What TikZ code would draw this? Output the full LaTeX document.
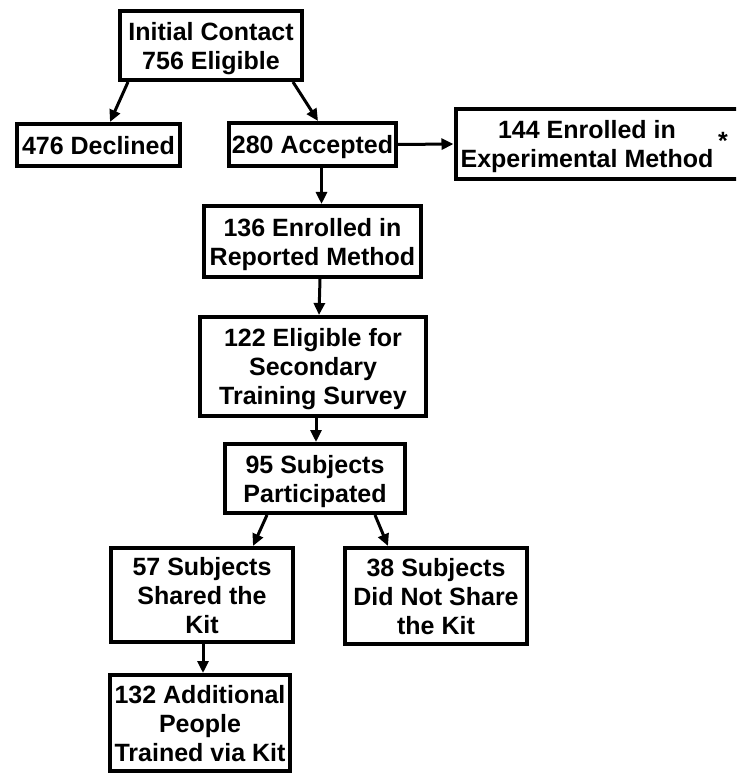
\documentclass[tikz,border=0pt]{standalone}
\usepackage{fontspec}
\setmainfont{Liberation Sans}
\usetikzlibrary{arrows.meta}
\begin{document}
\begin{tikzpicture}[x=1pt,y=-1pt,
  box/.style={draw=black,line width=4pt,rectangle,inner sep=0pt,align=center,text depth=0pt,
    font=\bfseries\fontsize{25}{29}\selectfont},
  txt/.style={inner sep=0pt,align=center,text depth=0pt,font=\bfseries\fontsize{25}{29}\selectfont},
  arr/.style={line width=3pt,-{Triangle[length=12pt,width=11pt]}}]
\useasboundingbox (0,0) rectangle (736,775);
\clip (0,0) rectangle (736,775);
\node[box,minimum width=182pt,minimum height=69pt] (init) at (211,45.5) {Initial Contact\\756 Eligible};
\node[box,minimum width=163pt,minimum height=42pt] (decl) at (98.5,145) {476 Declined};
\node[box,minimum width=167pt,minimum height=43pt] (acc) at (312.5,144.5) {280 Accepted};
\node[box,minimum width=291pt,minimum height=70pt] (exp) at (601,144) {};
\node[txt] (exptxt) at (587,144) {144 Enrolled in\\Experimental Method};
\node[txt] (ast) at (723,141) {*};
\node[box,minimum width=217pt,minimum height=71pt] (rep) at (312.5,241.5) {136 Enrolled in\\Reported Method};
\node[box,minimum width=226pt,minimum height=99pt] (elig) at (313,366.5) {122 Eligible for\\Secondary\\Training Survey};
\node[box,minimum width=180pt,minimum height=69pt] (part) at (315,478.5) {95 Subjects\\Participated};
\node[box,minimum width=182pt,minimum height=94pt] (shared) at (202,595) {57 Subjects\\Shared the\\Kit};
\node[box,minimum width=182pt,minimum height=96pt] (notsh) at (436,596) {38 Subjects\\Did Not Share\\the Kit};
\node[box,minimum width=180pt,minimum height=96pt] (add) at (200,723) {132 Additional\\People\\Trained via Kit};
\draw[arr] ([xshift=10pt]init.south west) -- ([xshift=11.5pt]decl.north);
\draw[arr] ([xshift=-11pt]init.south east) -- ([xshift=5.5pt]acc.north);
\draw[arr] (acc.east) -- (exp.west);
\draw[arr] ([xshift=9pt]acc.south) -- ([xshift=9pt]rep.north);
\draw[arr] ([xshift=7.5pt]rep.south) -- ([xshift=6pt]elig.north);
\draw[arr] ([xshift=3pt]elig.south) -- ([xshift=1pt]part.north);
\draw[arr] ([xshift=-48pt]part.south) -- ([xshift=51pt]shared.north);
\draw[arr] ([xshift=60pt]part.south) -- ([xshift=-48pt]notsh.north);
\draw[arr] ([xshift=1pt]shared.south) -- ([xshift=3pt]add.north);
\end{tikzpicture}
\end{document}
